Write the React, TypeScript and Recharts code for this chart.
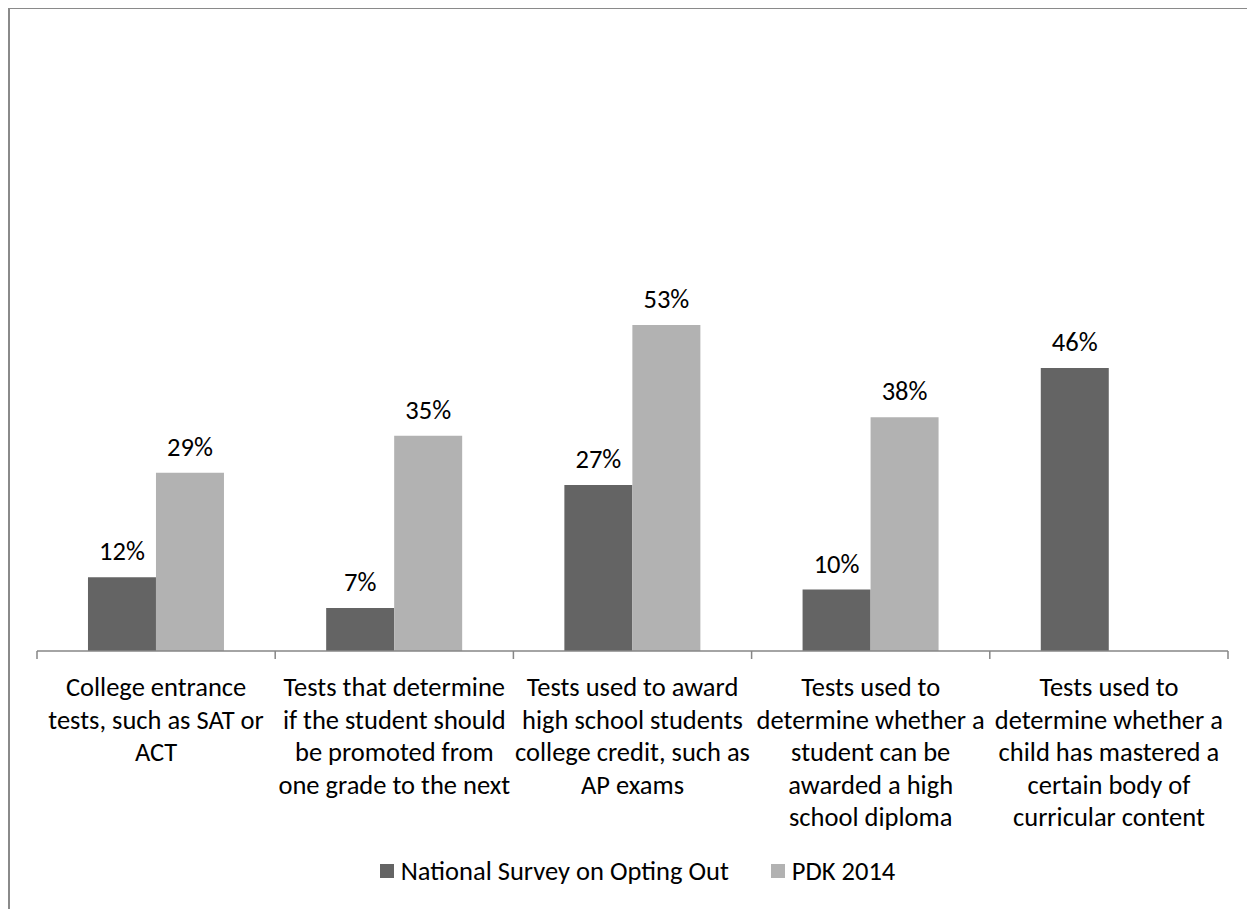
import React from "react";
import { BarChart, Bar, XAxis, YAxis, Legend, LabelList } from "recharts";

const categories: string[] = [
  "College entrance\ntests, such as SAT or\nACT",
  "Tests that determine\nif the student should\nbe promoted from\none grade to the next",
  "Tests used to award\nhigh school students\ncollege credit, such as\nAP exams",
  "Tests used to\ndetermine whether a\nstudent can be\nawarded a high\nschool diploma",
  "Tests used to\ndetermine whether a\nchild has mastered a\ncertain body of\ncurricular content",
];
const nationalSurvey: number[] = [12, 7, 27, 10, 46];
const pdk2014: (number | null)[] = [29, 35, 53, 38, null];
const seriesNames = ["National Survey on Opting Out", "PDK 2014"];

const DARK = "#646464";
const LIGHT = "#b2b2b2";
const AXIS = "#868686";
const FONT = "Calibri, Carlito, Lato, sans-serif";
const FS = 26.5;
const LINE = 32.5;

const data = categories.map((c, i) => ({
  category: c,
  national: nationalSurvey[i],
  pdk: pdk2014[i],
}));

const CategoryTick = (props: any) => {
  const { x, y, payload, index, visibleTicksCount } = props;
  const half = payload && payload.offset ? payload.offset : 0;
  const lines: string[] = String(payload.value).split("\n");
  const isLast = index === (visibleTicksCount ?? categories.length) - 1;
  return (
    <g>
      <line x1={x - half} x2={x - half} y1={y} y2={y + 8} stroke={AXIS} strokeWidth={1.5} />
      {isLast && <line x1={x + half} x2={x + half} y1={y} y2={y + 8} stroke={AXIS} strokeWidth={1.5} />}
      {lines.map((ln, i) => (
        <text
          key={i}
          x={x}
          y={y + 45 + i * LINE}
          textAnchor="middle"
          fill="#000"
          fontFamily={FONT}
          fontSize={FS}
        >
          {ln}
        </text>
      ))}
    </g>
  );
};

const LegendContent = () => (
  <div
    style={{
      height: 30,
      display: "flex",
      justifyContent: "center",
      alignItems: "center",
      fontFamily: FONT,
      fontSize: FS,
      color: "#000",
      paddingLeft: 10,
    }}
  >
    <span style={{ display: "inline-block", width: 14, height: 14, background: DARK, marginRight: 7 }} />
    <span style={{ marginRight: 42 }}>{seriesNames[0]}</span>
    <span style={{ display: "inline-block", width: 14, height: 14, background: LIGHT, marginRight: 7 }} />
    <span>{seriesNames[1]}</span>
  </div>
);

const fmt = (v: any) => (v === null || v === undefined ? "" : `${v}%`);

export default function App() {
  return (
    <div
      style={{
        width: 1247,
        height: 902,
        marginTop: -1,
        borderTop: "2px solid #8a8a8a",
        borderLeft: "2px solid #8a8a8a",
        boxSizing: "border-box",
        background: "#fff",
      }}
    >
      <BarChart
        width={1245}
        height={900}
        data={data}
        margin={{ top: 27, right: 27, bottom: 23, left: 27 }}
        barCategoryGap="21.4%"
        barGap={0}
      >
        <XAxis
          dataKey="category"
          type="category"
          axisLine={{ stroke: AXIS, strokeWidth: 1.5 }}
          tickLine={false}
          tickSize={0}
          tickMargin={0}
          height={205}
          interval={0}
          tick={<CategoryTick />}
        />
        <YAxis hide domain={[0, 100]} />
        <Legend verticalAlign="bottom" content={<LegendContent />} />
        <Bar dataKey="national" name={seriesNames[0]} fill={DARK} isAnimationActive={false}>
          <LabelList dataKey="national" position="top" offset={17} formatter={fmt} fill="#000" fontFamily={FONT} fontSize={FS} />
        </Bar>
        <Bar dataKey="pdk" name={seriesNames[1]} fill={LIGHT} isAnimationActive={false}>
          <LabelList dataKey="pdk" position="top" offset={17} formatter={fmt} fill="#000" fontFamily={FONT} fontSize={FS} />
        </Bar>
      </BarChart>
    </div>
  );
}
